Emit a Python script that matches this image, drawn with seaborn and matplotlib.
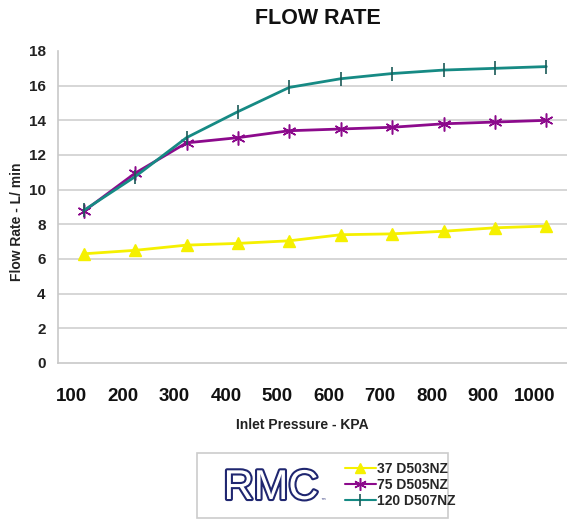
import matplotlib
matplotlib.use("Agg")
import matplotlib.pyplot as plt
import matplotlib.patheffects as pe
from matplotlib.patches import Rectangle
from matplotlib.lines import Line2D
import seaborn as sns
import pandas as pd
import numpy as np

pressure_labels = ["100", "200", "300", "400", "500", "600", "700", "800", "900", "1000"]
flow_37 = [6.3, 6.5, 6.8, 6.9, 7.05, 7.4, 7.45, 7.6, 7.8, 7.9]
flow_75 = [8.75, 10.95, 12.7, 13.0, 13.4, 13.5, 13.6, 13.8, 13.9, 14.0]
flow_120 = [8.8, 10.75, 13.0, 14.5, 15.9, 16.4, 16.7, 16.9, 17.0, 17.1]
series_names = ["37 D503NZ", "75 D505NZ", "120 D507NZ"]
y_ticks = [0, 2, 4, 6, 8, 10, 12, 14, 16, 18]

sns.set_style("white")
plt.rcParams["font.family"] = ["Liberation Sans", "DejaVu Sans"]

fig = plt.figure(figsize=(5.67, 5.19), dpi=100)
W, H = 567, 519
ax = fig.add_axes([58 / W, (H - 363) / H, (572 - 58) / W, (363 - 51) / H])

idx = np.arange(len(pressure_labels))
df = pd.DataFrame({
    "pos": np.tile(idx, 3),
    "flow": flow_37 + flow_75 + flow_120,
    "series": np.repeat(series_names, len(idx)),
})

styles = {
    "37 D503NZ": dict(color="#f5f000", marker="^", ms=8, mew=1, mec="#f5f000"),
    "75 D505NZ": dict(color="#8c0a8c", marker=(6, 2, 0), ms=10, mew=1.1, mec="#8c0a8c"),
    "120 D507NZ": dict(color="#168a84", marker="|", ms=10, mew=1.2, mec="#1a5a58"),
}
handles = []
for name in series_names:
    st = styles[name]
    sub = df[df["series"] == name]
    sns.lineplot(data=sub, x="pos", y="flow", ax=ax, color=st["color"], lw=2,
                 marker=st["marker"], markersize=st["ms"], markeredgewidth=st["mew"],
                 markeredgecolor=st["mec"], markerfacecolor=st["color"], legend=False)
    handles.append(Line2D([], [], color=st["color"], lw=1.5, marker=st["marker"],
                          markersize=st["ms"] * 0.9, markeredgewidth=st["mew"],
                          markeredgecolor=st["mec"], markerfacecolor=st["color"]))

ax.set_xlim(-0.5, len(idx) - 0.5)
ax.set_ylim(0, 18)
ax.set_yticks(y_ticks)
ax.set_yticklabels([str(v) for v in y_ticks], fontsize=11, fontweight="bold", color="#222222")
# category labels sit slightly left of their data points, as in the reference
ax.set_xticks(idx - 0.23)
ax.set_xticklabels(pressure_labels, fontsize=13.5, fontweight="bold", color="#111111")
ax.set_xticks(np.arange(-0.5, len(idx), 1.0), minor=True)
ax.tick_params(axis="x", which="major", length=0, pad=18)
ax.tick_params(axis="x", which="minor", length=5, color="#c8c8c8", width=1)
ax.tick_params(axis="y", which="major", length=5, color="#c8c8c8", width=1, pad=4)

ax.grid(axis="y", color="#d0d0d0", lw=1.2)
ax.grid(axis="x", visible=False)
ax.set_axisbelow(True)
ax.yaxis.get_gridlines()[-1].set_visible(False)
ax.yaxis.get_gridlines()[0].set_visible(False)
for s in ["top", "right"]:
    ax.spines[s].set_visible(False)
for s in ["left", "bottom"]:
    ax.spines[s].set_color("#c8c8c8")
    ax.spines[s].set_linewidth(1.2)

ax.set_xlabel("")
ax.set_ylabel("")
fig.text(17 / W, 1 - 222 / H, "Flow Rate - L/ min", rotation=90, ha="center", va="center",
         fontsize=10, fontweight="bold", color="#222222")
fig.text(302 / W, 1 - 425 / H, "Inlet Pressure - KPA", ha="center", va="center",
         fontsize=10, fontweight="bold", color="#222222")
fig.text(318 / W, 1 - 18 / H, "FLOW RATE", ha="center", va="center",
         fontsize=15.5, fontweight="bold", color="#111111")

# legend box
fig.patches.append(Rectangle((197 / W, 1 / H), 251 / W, 65 / H, transform=fig.transFigure,
                             fill=True, facecolor="white", edgecolor="#cccccc", lw=1.2))
fig.text(271 / W, 1 - 488 / H, "RMC", ha="center", va="center", fontsize=30,
         color="white",
         path_effects=[pe.withStroke(linewidth=3, foreground="#1f2670")])
fig.text(320 / W, 1 - 501 / H, "™", ha="left", va="center", fontsize=4, color="#1f2670",
         family=["DejaVu Sans"])
fig.legend(handles, series_names, loc="center left",
           bbox_to_anchor=(345 / W, 1 - 485 / H), frameon=False,
           prop={"size": 10, "weight": "bold"}, handlelength=2.2,
           handletextpad=0.1, labelspacing=0.15, borderpad=0, borderaxespad=0)

fig.savefig("out.png", dpi=100)
